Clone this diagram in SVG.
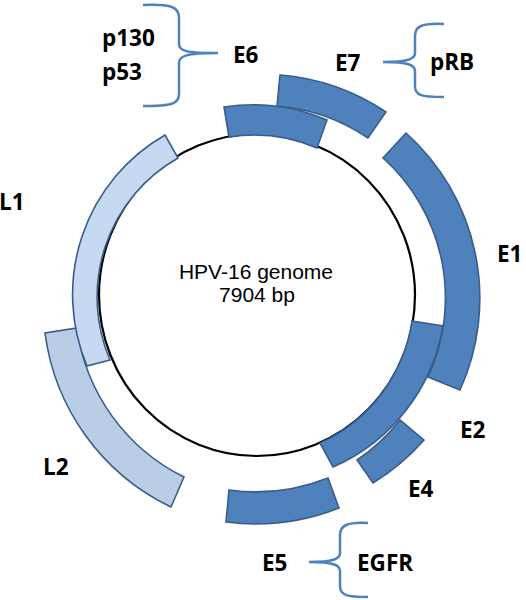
<svg xmlns="http://www.w3.org/2000/svg" width="526" height="600" viewBox="0 0 526 600">
<style>
.dark{fill:#4F81BD;stroke:#385D8A;stroke-width:1.6;stroke-linejoin:miter}
.l1{fill:#C6D9F1;stroke:#385D8A;stroke-width:1.6}
.l2{fill:#B9CDE5;stroke:#385D8A;stroke-width:1.6}
.lbl{font-family:"Open Sans",Lato,"Liberation Sans",sans-serif;font-weight:bold;font-size:22.5px;fill:#000}
.ctr{font-family:"Liberation Sans",Arial,sans-serif;font-size:21px;fill:#000;text-anchor:middle}
.brace{fill:none;stroke:#4F81BD;stroke-width:2.5;stroke-linecap:butt;stroke-linejoin:round}
</style>
<rect width="526" height="600" fill="#fff"/>
<g id="genome">
<ellipse cx="257" cy="295" rx="158" ry="161" fill="none" stroke="#000" stroke-width="2.2"/>
<text class="ctr" x="256" y="279">HPV-16 genome</text>
<text class="ctr" x="257" y="302">7904 bp</text>
</g>
<g id="L2"><path class="l2" d="M45,333 A225,225 0 0 0 171,507 L184,477 A195,195 0 0 1 77,328 Z"/><text class="lbl" x="43" y="475">L2</text></g>
<g id="L1"><path class="l1" d="M87,366 A184,184 0 0 1 165,135 L178,158 A160,160 0 0 0 110,360 Z"/><text class="lbl" x="-1" y="210">L1</text></g>
<g id="E7"><path class="dark" d="M280,75 A222,222 0 0 1 386,112 L368,138 A191,191 0 0 0 277,106 Z"/><text class="lbl" x="335" y="71">E7</text></g>
<g id="E6"><path class="dark" d="M224,107 A189,189 0 0 1 327,120 L317,148 A160,160 0 0 0 229,137 Z"/><text class="lbl" x="233" y="63">E6</text></g>
<g id="E4"><path class="dark" d="M424,440 A221,221 0 0 1 373,483 L357,460 A190,190 0 0 0 400,420 Z"/><text class="lbl" x="408" y="497">E4</text></g>
<g id="E2"><path class="dark" d="M412,321 L443,326 A188,188 0 0 1 333,467 L320,443 A160,160 0 0 0 412,321 Z"/><text class="lbl" x="460" y="438">E2</text></g>
<g id="E1"><path class="dark" d="M406,133 A222,222 0 0 1 460,390 L428,377 A188,188 0 0 0 383,158 Z"/><text class="lbl" x="497" y="262">E1</text></g>
<g id="E5"><path class="dark" d="M339,508 A228,228 0 0 1 226,522 L229,490 A196,196 0 0 0 328,478 Z"/><text class="lbl" x="262" y="571">E5</text></g>
<g id="p130-p53"><text class="lbl" x="102" y="46">p130</text><text class="lbl" x="102" y="80">p53</text></g>
<g id="pRB"><text class="lbl" x="430" y="70">pRB</text></g>
<g id="EGFR"><text class="lbl" x="357" y="571">EGFR</text></g>
<g id="connectors">
<path class="brace" d="M143,5 C172,4 179,7 179,18 L179,44 C179,51 186,53 218,53 M218,53 C186,53 179,56 179,63 L179,94 C179,104 172,106 143,106"/>
<path class="brace" d="M444,24 C420,23 415,27 415,36 L415,53 C415,59 408,62 383,62 M383,62 C408,62 415,65 415,71 L415,86 C415,95 420,97 444,97"/>
<path class="brace" d="M368,523 C346,522 340,526 340,535 L340,553 C340,559 333,562 309,562 M309,562 C333,562 340,565 340,571 L340,586 C340,595 346,597 368,597"/>
</g>
</svg>
